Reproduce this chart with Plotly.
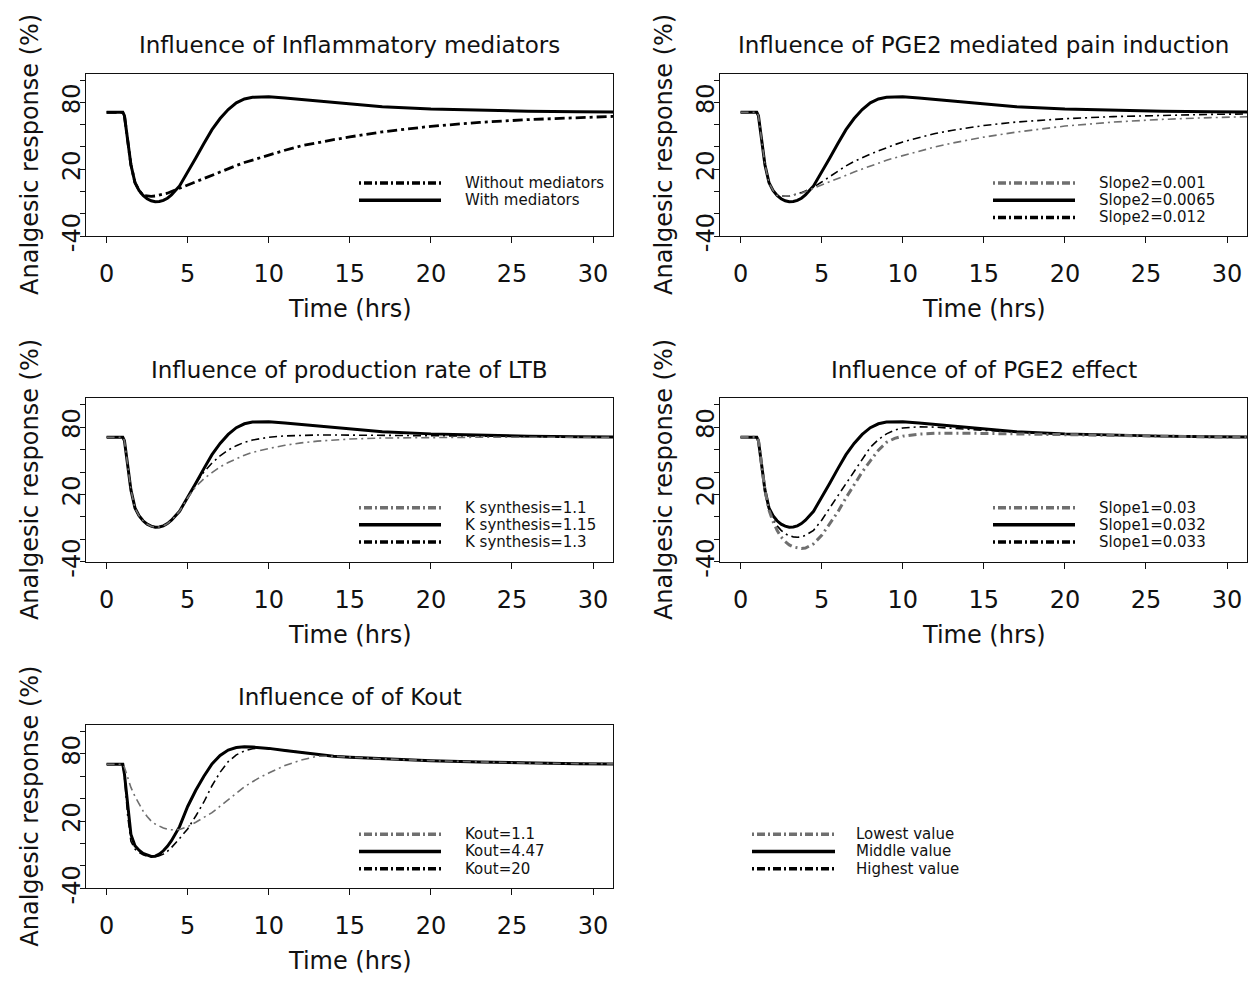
import plotly.graph_objects as go

W, H = 1248, 987

# ---------------- data ----------------
TIME = [0, 1.0, 1.1, 1.3, 1.5, 1.75, 2.0, 2.25, 2.5, 2.75,
        3.0, 3.25, 3.5, 3.75, 4.0, 4.5, 5.0, 5.5, 6.0, 6.5,
        7.0, 7.5, 8.0, 8.5, 9.0, 9.5, 10, 11, 12, 13,
        14, 15, 17, 20, 23, 26, 29, 32]

WITH_MEDIATORS = [71, 71, 68, 46, 24, 8, 1, -3.5, -6.5, -8.3,
                  -9.2, -9, -8, -6, -3, 5, 17, 30, 43, 55.5,
                  65.5, 73.5, 79.5, 83, 84.5, 85, 84.9, 83.8, 82.5, 81,
                  79.3, 78, 76, 74, 72.8, 72, 71.5, 71.2]
WITHOUT_MEDIATORS = [71, 71, 68, 46, 24, 8, 1, -3.5, -4.2, -4.3,
                     -4, -3.3, -2.5, -1.5, 0, 3, 6, 9, 12, 14.7,
                     17.5, 20.5, 23.3, 26, 28.3, 30.6, 32.8, 37, 41, 44,
                     46.5, 49, 53.5, 58.5, 62, 64.5, 66.5, 67.8]

SLOPE2_0001 = [71, 71, 68, 46, 24, 8, 1, -3.5, -4.2, -4.3,
               -4, -3.3, -2.5, -1.5, 0, 3, 6, 9, 12, 14.8,
               17.5, 20.2, 23, 25.5, 28, 30.2, 32.3, 36.3, 40, 43.3,
               46.2, 48.8, 53.3, 58.7, 62.3, 64.7, 66.3, 67.3]
SLOPE2_00065 = WITH_MEDIATORS
SLOPE2_0012 = [71, 71, 68, 46, 24, 8, 1, -3.5, -4.2, -4.3,
               -4, -3.2, -2.2, -1, 0.5, 4, 8.5, 13.5, 18.5, 23,
               27, 30.5, 33.5, 36.5, 39.5, 42, 44.5, 48.5, 52, 54.8,
               57.2, 59.2, 62.3, 65.3, 67.2, 68.4, 69.2, 69.7]

KSYN_11 = [71, 71, 68, 46, 24, 8, 1, -3.5, -6.5, -8.3,
           -9.2, -9, -8, -6, -3, 5, 17, 27, 34, 39.5,
           44.5, 48.5, 52, 55, 57.5, 59.5, 61, 63.8, 66, 67.5,
           68.6, 69.4, 70.3, 70.8, 71, 71, 71, 71]
KSYN_115 = WITH_MEDIATORS
KSYN_13 = [71, 71, 68, 46, 24, 8, 1, -3.5, -6.5, -8.3,
           -9.2, -9, -8, -6, -3, 5, 17, 30, 40, 48,
           54.5, 59.5, 63.5, 66.5, 68.5, 70, 71, 72.2, 72.8, 73,
           73, 72.9, 72.6, 72.1, 71.7, 71.4, 71.2, 71.1]

SLOPE1_003 = [71, 71, 68, 46, 24, 6, -4, -12, -18, -22,
              -25, -26.8, -27.8, -28.2, -27.8, -24, -16.5, -6.5, 4.5, 17,
              29, 40, 50, 59.5, 66.5, 70, 72, 73.8, 74.5, 74.7,
              74.6, 74.4, 73.9, 73, 72.3, 71.7, 71.3, 71.1]
SLOPE1_0032 = WITH_MEDIATORS
SLOPE1_0033 = [71, 71, 68, 46, 24, 7, -2, -8, -12, -15,
               -16.8, -17.8, -18.2, -17.8, -16.5, -12, -3, 8, 19, 30,
               41, 52, 62, 69, 74, 77.3, 79.3, 80.3, 80, 79,
               78, 77.2, 75.5, 73.7, 72.6, 71.9, 71.4, 71.2]

KOUT_11 = [70.6, 70.6, 68, 60, 50, 42, 35, 29, 24, 20,
           17.3, 15.3, 13.8, 12.8, 12.2, 12.5, 15, 19, 23.3, 27.5,
           33.3, 39.1, 45, 50.6, 55, 59.3, 62.8, 69.5, 74.4, 77.8,
           77.8, 77, 75.5, 73.8, 72.6, 71.7, 71.2, 70.9]
KOUT_447 = [70.6, 70.6, 62, 32, 8, -2, -6, -8.8, -10.5, -11.5,
            -11.3, -9.5, -6.5, -2.5, 2.5, 15, 33, 47.5, 60, 71,
            78.5, 83.3, 85.5, 86.2, 86, 85.5, 84.8, 83, 81.3, 79.3,
            77.8, 77, 75.5, 73.8, 72.6, 71.7, 71.2, 70.9]
KOUT_20 = [70.6, 70.6, 60, 25, 2, -5, -8, -10, -11.2, -11.8,
           -11.8, -11, -9.5, -7, -3.6, 4.5, 13, 24.5, 37, 51.5,
           63.5, 73, 79, 82.5, 84.5, 85.3, 84.8, 83, 81.3, 79.3,
           77.8, 77, 75.5, 73.8, 72.6, 71.7, 71.2, 70.9]

X_TICKS = [0, 5, 10, 15, 20, 25, 30]
Y_TICKS = [-40, -20, 0, 20, 40, 60, 80, 100]
Y_TICK_TEXT = ["-40", "", "", "20", "", "", "80", ""]
X_RANGE = [-1.27, 31.23]
Y_RANGE = [-40, 105.6]

# ---------------- styles ----------------
FONT = "DejaVu Sans"
GRAY = "#6f6f6f"
PLOT_DASH = "8px,4px,2px,4px"
STYLES = {
    "low": dict(color=GRAY, width=1.6, dash=PLOT_DASH),
    "low_thick": dict(color=GRAY, width=3.0, dash=PLOT_DASH),
    "mid": dict(color="black", width=3.0, dash="solid"),
    "high": dict(color="black", width=1.6, dash=PLOT_DASH),
    "without": dict(color="black", width=2.8, dash="10px,4px,3px,4px"),
}
KEY_DASH = "2px,3px,8px,3px"
KEY_STYLES = {
    "low": dict(color=GRAY, width=3.5, dash=KEY_DASH),
    "mid": dict(color="black", width=3.5, dash="solid"),
    "high": dict(color="black", width=3.5, dash=KEY_DASH),
}

COL_PX = [(86, 613), (720, 1247)]
ROW_PX = [(75, 240), (405, 571), (737, 903)]

PANELS = [
    dict(title="Influence of Inflammatory mediators", col=0, row=0,
         series=[("With mediators", WITH_MEDIATORS, "mid"),
                 ("Without mediators", WITHOUT_MEDIATORS, "without")],
         legend=[("Without mediators", "high"), ("With mediators", "mid")]),
    dict(title="Influence of PGE2 mediated pain induction", col=1, row=0,
         series=[("Slope2=0.0065", SLOPE2_00065, "mid"),
                 ("Slope2=0.012", SLOPE2_0012, "high"),
                 ("Slope2=0.001", SLOPE2_0001, "low")],
         legend=[("Slope2=0.001", "low"), ("Slope2=0.0065", "mid"), ("Slope2=0.012", "high")]),
    dict(title="Influence of production rate of LTB", col=0, row=1,
         series=[("K synthesis=1.15", KSYN_115, "mid"),
                 ("K synthesis=1.3", KSYN_13, "high"),
                 ("K synthesis=1.1", KSYN_11, "low")],
         legend=[("K synthesis=1.1", "low"), ("K synthesis=1.15", "mid"), ("K synthesis=1.3", "high")]),
    dict(title="Influence of of PGE2 effect", col=1, row=1,
         series=[("Slope1=0.032", SLOPE1_0032, "mid"),
                 ("Slope1=0.033", SLOPE1_0033, "high"),
                 ("Slope1=0.03", SLOPE1_003, "low_thick")],
         legend=[("Slope1=0.03", "low"), ("Slope1=0.032", "mid"), ("Slope1=0.033", "high")]),
    dict(title="Influence of of Kout", col=0, row=2,
         series=[("Kout=4.47", KOUT_447, "mid"),
                 ("Kout=20", KOUT_20, "high"),
                 ("Kout=1.1", KOUT_11, "low")],
         legend=[("Kout=1.1", "low"), ("Kout=4.47", "mid"), ("Kout=20", "high")]),
]

GLOBAL_LEGEND = [("Lowest value", "low"), ("Middle value", "mid"), ("Highest value", "high")]


def px_x(p):
    return p / W


def px_y(p):
    return 1 - p / H


fig = go.Figure()
layout = dict(width=W, height=H, margin=dict(l=0, r=0, t=0, b=0), autosize=False,
              paper_bgcolor="white", plot_bgcolor="white", showlegend=False,
              font=dict(family=FONT, color="#111111"))
annotations = []
shapes = []

axis_common = dict(showline=True, mirror=True, linecolor="#111111", linewidth=1.2,
                   showgrid=False, zeroline=False, ticks="outside", tickcolor="#111111",
                   tickwidth=1.2, tickfont=dict(family=FONT, size=24, color="#111111"))

for i, p in enumerate(PANELS):
    k = i + 1
    xa = "x" if k == 1 else f"x{k}"
    ya = "y" if k == 1 else f"y{k}"
    l, r = COL_PX[p["col"]]
    t, b = ROW_PX[p["row"]]
    layout[f"xaxis{k}"] = dict(axis_common, domain=[px_x(l), px_x(r)], anchor=ya,
                               range=X_RANGE, tickvals=X_TICKS, ticklen=6,
                               ticklabelstandoff=10)
    layout[f"yaxis{k}"] = dict(axis_common, domain=[px_y(b), px_y(t)], anchor=xa,
                               range=Y_RANGE, tickvals=Y_TICKS, ticktext=Y_TICK_TEXT,
                               tickangle=-90, ticklen=5, ticklabelstandoff=-10)
    for name, vals, sty in p["series"]:
        fig.add_trace(go.Scatter(x=TIME, y=vals, mode="lines", name=name,
                                 line=STYLES[sty], xaxis=xa, yaxis=ya,
                                 hoverinfo="skip"))
    cx = (l + r) / 2
    annotations.append(dict(text=p["title"], x=px_x(cx), y=px_y(t - 29), xref="paper", yref="paper",
                            xanchor="center", yanchor="middle", showarrow=False,
                            font=dict(size=23, family=FONT, color="#111111")))
    annotations.append(dict(text="Time (hrs)", x=px_x(cx), y=px_y(b + 74), xref="paper", yref="paper",
                            xanchor="center", yanchor="middle", showarrow=False,
                            font=dict(size=24, family=FONT, color="#111111")))
    annotations.append(dict(text="Analgesic response (%)", x=px_x(l - 56), y=px_y((t + b) / 2),
                            xref="paper", yref="paper", textangle=-90,
                            xanchor="center", yanchor="middle", showarrow=False,
                            font=dict(size=24, family=FONT, color="#111111")))
    # legend keys
    for j, (lab, ks) in enumerate(p["legend"]):
        yy = t + 111 + j * 17.5
        shapes.append(dict(type="line", xref="paper", yref="paper",
                           x0=px_x(l + 273), x1=px_x(l + 355), y0=px_y(yy), y1=px_y(yy),
                           line=KEY_STYLES[ks]))
        annotations.append(dict(text=lab, x=px_x(l + 377), y=px_y(yy), xref="paper", yref="paper",
                                xanchor="left", yanchor="middle", showarrow=False,
                                font=dict(size=15, family=FONT, color="#111111")))

# global legend panel
for j, (lab, ks) in enumerate(GLOBAL_LEGEND):
    yy = 848 + j * 17.5
    shapes.append(dict(type="line", xref="paper", yref="paper",
                       x0=px_x(752), x1=px_x(835), y0=px_y(yy), y1=px_y(yy),
                       line=KEY_STYLES[ks]))
    annotations.append(dict(text=lab, x=px_x(854), y=px_y(yy), xref="paper", yref="paper",
                            xanchor="left", yanchor="middle", showarrow=False,
                            font=dict(size=15, family=FONT, color="#111111")))

layout["annotations"] = annotations
layout["shapes"] = shapes
fig.update_layout(**layout)
fig.write_html("out.html")
